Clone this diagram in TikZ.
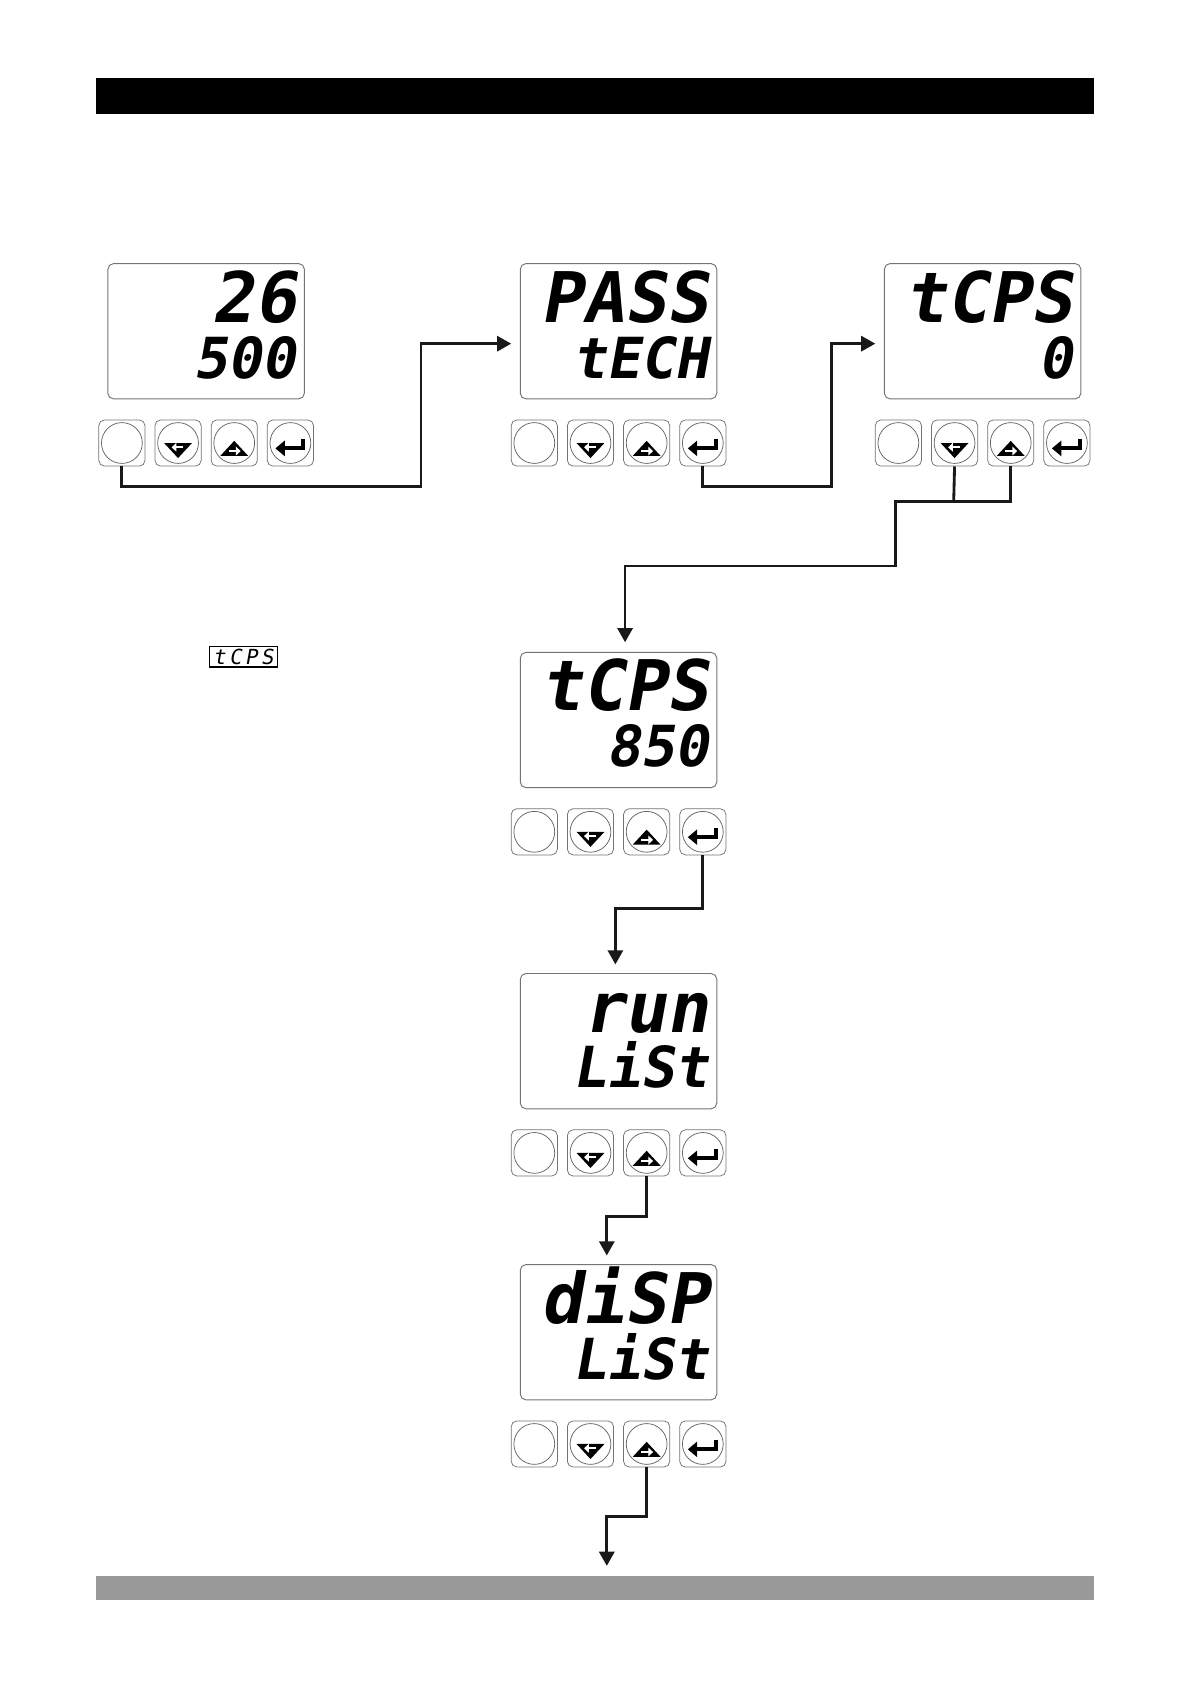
\documentclass[tikz,border=0pt]{standalone}
\usepackage{fontspec}
\usetikzlibrary{arrows.meta}
\newfontfamily\segfont[FakeSlant=0.18]{DejaVu Sans Mono}
\tikzset{
  disp/.style={draw=black!55, line width=0.5pt, rounded corners=3pt, minimum width=3.66cm, minimum height=2.52cm, inner sep=0pt, anchor=north west},
  btn/.style={draw=black!55, line width=0.4pt, rounded corners=3pt, minimum size=0.86cm, inner sep=0pt},
  ring/.style={draw=black!60, line width=0.4pt},
  conn/.style={line width=1.5pt, draw=black!90},
  arr/.style={-{Triangle[length=7.5pt,width=8pt]}},
  toprow/.style={font=\segfont\bfseries\fontsize{37}{37}\selectfont, anchor=base east, inner sep=0pt},
  botrow/.style={font=\segfont\bfseries\fontsize{30}{30}\selectfont, anchor=base east, inner sep=0pt},
}
\newcommand\mypanel[5]{%
  \node[disp] (#1d) at (#2,#3) {};
  \node[toprow] (#1t) at (#2+176,#3+55) {#4};
  \node[botrow] (#1s) at (#2+176,#3+107) {#5};
  \foreach \i in {1,2,3,4} {
    \node[btn] (#1b\i) at (#2+13.5+52.3*\i-52.3,#3+167.5) {};
    \draw[ring] (#1b\i.center) circle (0.38cm);
  }
  \fill ([shift={(-13,0)}]#1b2.center) -- ++(26,0) -- ++(-13,14) -- cycle;
  \draw[white, line width=0.9pt, -{Triangle[length=2.5pt,width=4.5pt]}] ([shift={(5,4)}]#1b2.center) -- ([shift={(-6,4)}]#1b2.center);
  \fill ([shift={(-13,12)}]#1b3.center) -- ++(26,0) -- ++(-13,-14) -- cycle;
  \draw[white, line width=0.9pt, -{Triangle[length=2.5pt,width=4.5pt]}] ([shift={(-5,7.5)}]#1b3.center) -- ([shift={(6,7.5)}]#1b3.center);
  \draw[line width=2.2pt, -{Triangle[length=5pt,width=8pt]}] ([shift={(12,-4)}]#1b4.center) |- ([shift={(-14,5)}]#1b4.center);
}
\begin{document}
\begin{tikzpicture}[x=0.02cm, y=-0.02cm]
\useasboundingbox (0,0) rectangle (1110,1568);
\fill[black] (89,73) rectangle (1019,106);
\fill[black!40] (89,1467) rectangle (1019,1490);

\mypanel{pa}{100}{245}{26}{500}
\mypanel{pb}{484}{245}{PASS}{tECH}
\mypanel{pc}{823}{245}{tCPS}{0}
\mypanel{pd}{484}{607}{tCPS}{850}
\mypanel{pe}{484}{906}{run}{LiSt}
\mypanel{pf}{484}{1177}{diSP}{LiSt}

\node[draw, line width=0.6pt, minimum width=1.26cm, minimum height=0.38cm, inner sep=0pt, font=\segfont\fontsize{11}{11}\selectfont] (icon) at (226.5,611.5) {t\,C\,P\,S};

\coordinate (a1) at (392,453);
\coordinate (a1e) at (476,320);
\draw[conn, arr] (pab1.south) |- (a1) |- (a1e);

\coordinate (a2) at (774,453);
\coordinate (a2e) at (815,320);
\draw[conn, arr] (pbb4.south) |- (a2) |- (a2e);

\coordinate (j0) at (888,467);
\coordinate (j1) at (834,467);
\coordinate (j2) at (582,527);
\coordinate (a3e) at (582,598);
\draw[conn] (pcb2.south) -- (j0);
\draw[conn, arr] (pcb3.south) |- (j1) |- (j2) -- (a3e);

\coordinate (j4) at (573,846);
\coordinate (a4e) at (573,898);
\draw[conn, arr] (pdb4.south) |- (j4) -- (a4e);

\coordinate (j5) at (565,1133);
\coordinate (a5e) at (565,1169);
\draw[conn, arr] (peb3.south) |- (j5) -- (a5e);

\coordinate (j6) at (565,1412);
\coordinate (a6e) at (565,1458);
\draw[conn, arr] (pfb3.south) |- (j6) -- (a6e);
\end{tikzpicture}
\end{document}
